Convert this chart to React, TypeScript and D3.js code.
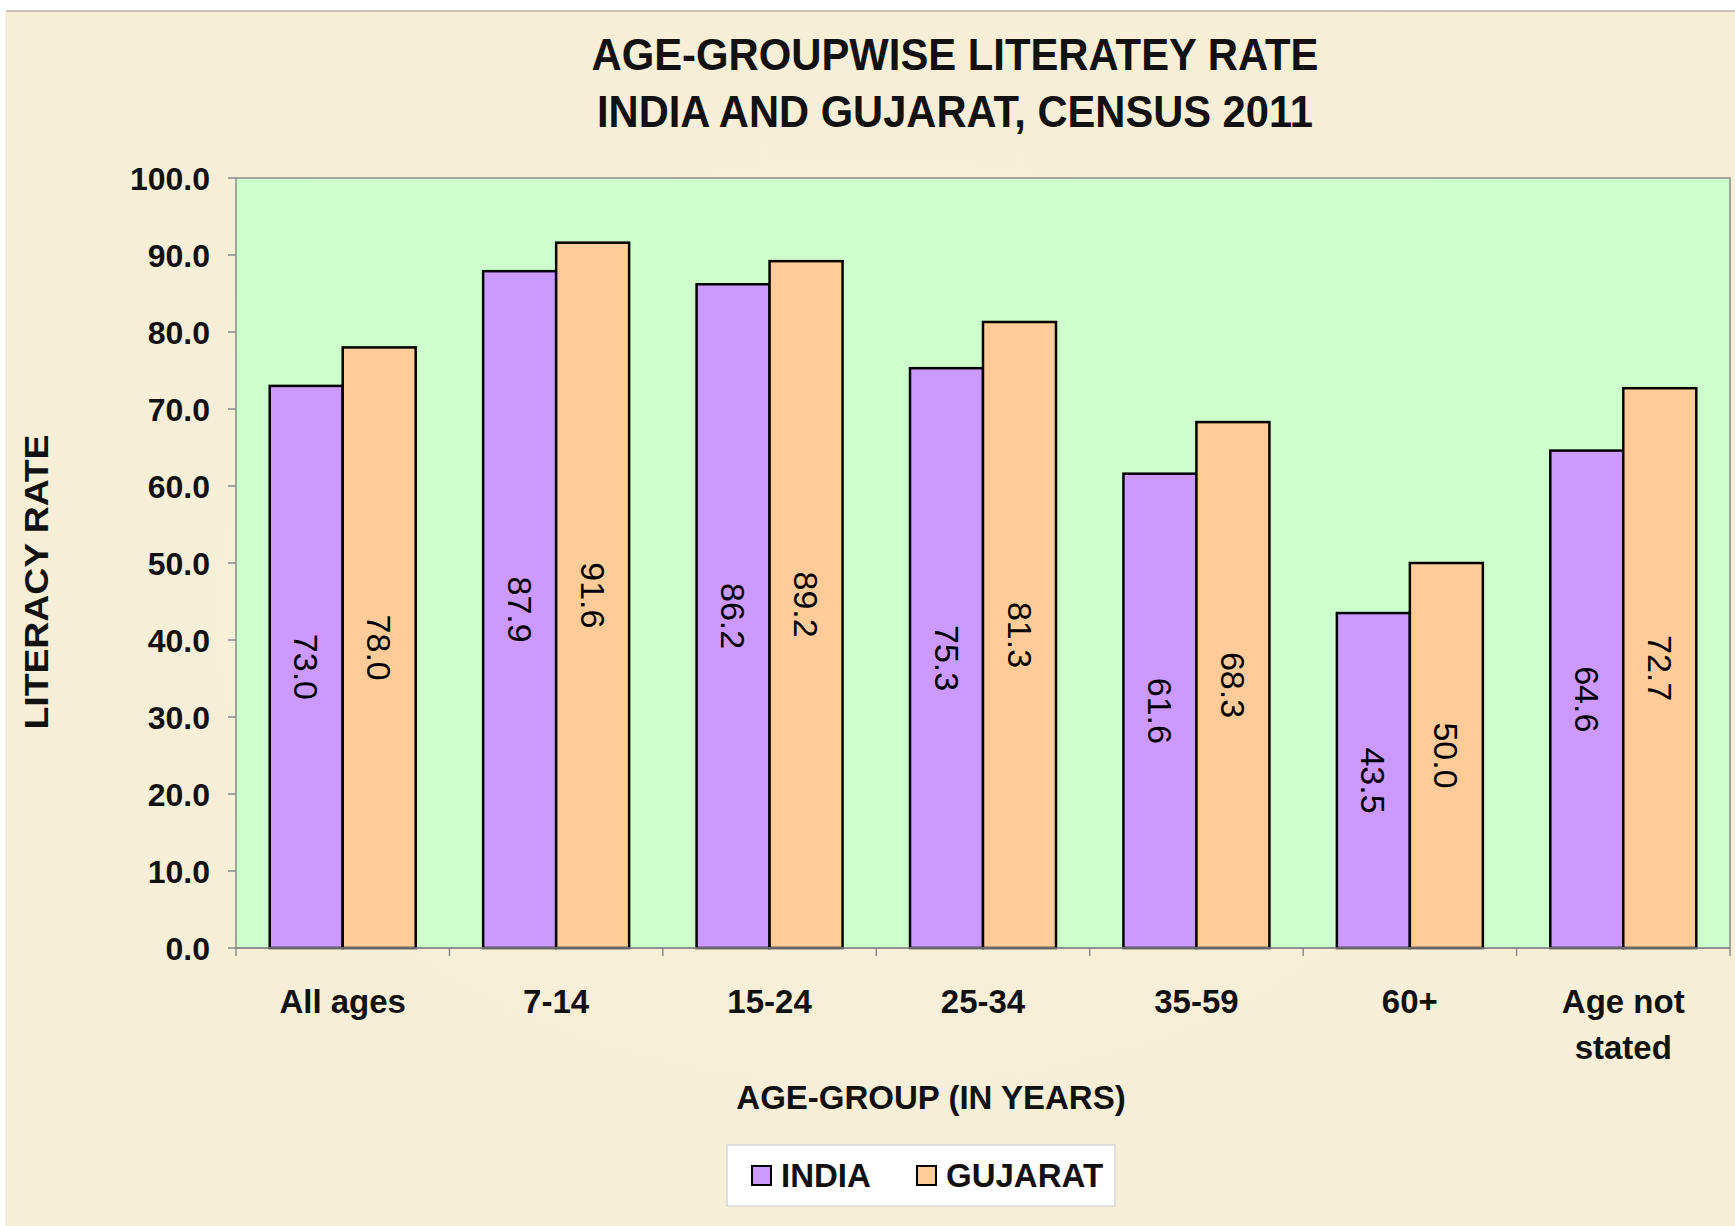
import React from "react";
import * as d3 from "d3";

const categories = ["All ages", "7-14", "15-24", "25-34", "35-59", "60+", "Age not stated"];
const categoryLines = [["All ages"], ["7-14"], ["15-24"], ["25-34"], ["35-59"], ["60+"], ["Age not", "stated"]];
const seriesNames = ["INDIA", "GUJARAT"];
const indiaValues = [73.0, 87.9, 86.2, 75.3, 61.6, 43.5, 64.6];
const gujaratValues = [78.0, 91.6, 89.2, 81.3, 68.3, 50.0, 72.7];
const yTicks = [0, 10, 20, 30, 40, 50, 60, 70, 80, 90, 100];
const titleLines = ["AGE-GROUPWISE LITERATEY  RATE", "INDIA AND GUJARAT, CENSUS 2011"];
const xTitle = "AGE-GROUP (IN YEARS)";
const yTitle = "LITERACY  RATE";

const W = 1735, H = 1226;
const plot = { left: 236, top: 178, right: 1730, bottom: 948 };
const colors = ["#cc99ff", "#ffcc99"];
const FONT = "Arial, 'Liberation Sans', Helvetica, sans-serif";

export default function App() {
  const series = [indiaValues, gujaratValues];
  const x0 = d3.scaleBand<string>().domain(categories).range([plot.left, plot.right]).paddingInner(0.316).paddingOuter(0.158);
  const x1 = d3.scaleBand<string>().domain(seriesNames).range([0, x0.bandwidth()]);
  const y = d3.scaleLinear().domain([0, 100]).range([plot.bottom, plot.top]);
  const fmt = d3.format(".1f");
  const step = x0.step();
  const boundaries = d3.range(categories.length + 1).map((i) => plot.left + i * step);

  return (
    <svg width={W} height={H} style={{ position: "absolute", left: 0, top: 0 }} fontFamily={FONT}>
      <defs>
        <radialGradient id="bgGrad" cx="50%" cy="50%" r="75%">
          <stop offset="0%" stopColor="#f8efd9" />
          <stop offset="100%" stopColor="#f7eed6" />
        </radialGradient>
      </defs>
      <rect x={0} y={0} width={W} height={H} fill="#ffffff" />
      <rect x={6} y={11} width={W - 6} height={H - 11} fill="url(#bgGrad)" />
      <line x1={6} x2={W} y1={11} y2={11} stroke="#b8b0a2" strokeWidth={1.5} />
      <line x1={6} x2={6} y1={11} y2={H} stroke="#e8e2d6" strokeWidth={1} />

      {/* title */}
      <text x={955} y={70} textAnchor="middle" fontSize={44} fontWeight="bold" textLength={727} lengthAdjust="spacingAndGlyphs" fill="#111">{titleLines[0]}</text>
      <text x={955} y={127} textAnchor="middle" fontSize={44} fontWeight="bold" textLength={716} lengthAdjust="spacingAndGlyphs" fill="#111">{titleLines[1]}</text>

      {/* plot area */}
      <rect x={plot.left} y={plot.top} width={plot.right - plot.left} height={plot.bottom - plot.top} fill="#ccffcc" stroke="#8a8a8a" strokeWidth={1.5} />

      {/* y ticks */}
      {yTicks.map((t) => (
        <g key={t}>
          <line x1={plot.left - 8} x2={plot.left} y1={y(t)} y2={y(t)} stroke="#8a8a8a" strokeWidth={1.5} />
          <text x={210} y={y(t)} dy="0.36em" textAnchor="end" fontSize={32} fontWeight="bold" fill="#111">{fmt(t)}</text>
        </g>
      ))}

      {/* x boundary ticks */}
      {boundaries.map((bx, i) => (
        <line key={i} x1={bx} x2={bx} y1={plot.bottom} y2={plot.bottom + 8} stroke="#8a8a8a" strokeWidth={1.5} />
      ))}

      {/* bars */}
      {categories.map((c, ci) => (
        <g key={c}>
          {series.map((vals, si) => {
            const bx = (x0(c) as number) + (x1(seriesNames[si]) as number);
            const bw = x1.bandwidth();
            const top = y(vals[ci]);
            const cx = bx + bw / 2;
            const cy = (top + plot.bottom) / 2;
            return (
              <g key={si}>
                <rect x={bx} y={top} width={bw} height={plot.bottom - top} fill={colors[si]} stroke="#000" strokeWidth={2.5} />
                <text x={cx} y={cy} transform={`rotate(90 ${cx} ${cy})`} textAnchor="middle" dominantBaseline="central" fontSize={34} fill="#000">{fmt(vals[ci])}</text>
              </g>
            );
          })}
        </g>
      ))}
      <line x1={plot.left} x2={plot.right} y1={plot.bottom} y2={plot.bottom} stroke="#8a8a8a" strokeWidth={1.5} />

      {/* category labels */}
      {categories.map((c, ci) => {
        const cx = (x0(c) as number) + x0.bandwidth() / 2;
        return categoryLines[ci].map((ln, li) => (
          <text key={c + li} x={cx} y={1013 + li * 46} textAnchor="middle" fontSize={33} fontWeight="bold" fill="#111">{ln}</text>
        ));
      })}

      {/* axis titles */}
      <text x={931} y={1109} textAnchor="middle" fontSize={33} fontWeight="bold" fill="#111">{xTitle}</text>
      <text x={0} y={0} transform="translate(48 582) rotate(-90)" textAnchor="middle" fontSize={33} fontWeight="bold" textLength={295} lengthAdjust="spacingAndGlyphs" fill="#111">{yTitle}</text>

      {/* legend */}
      <rect x={727} y={1145} width={388} height={61} fill="#ffffff" stroke="#d8d8d8" strokeWidth={1.5} />
      {seriesNames.map((s, si) => {
        const sx = [752, 917][si];
        const tx = [781, 946][si];
        return (
          <g key={s}>
            <rect x={sx} y={1166} width={19} height={19} fill={colors[si]} stroke="#000" strokeWidth={2} />
            <text x={tx} y={1187} fontSize={33} fontWeight="bold" fill="#111">{s}</text>
          </g>
        );
      })}
    </svg>
  );
}
